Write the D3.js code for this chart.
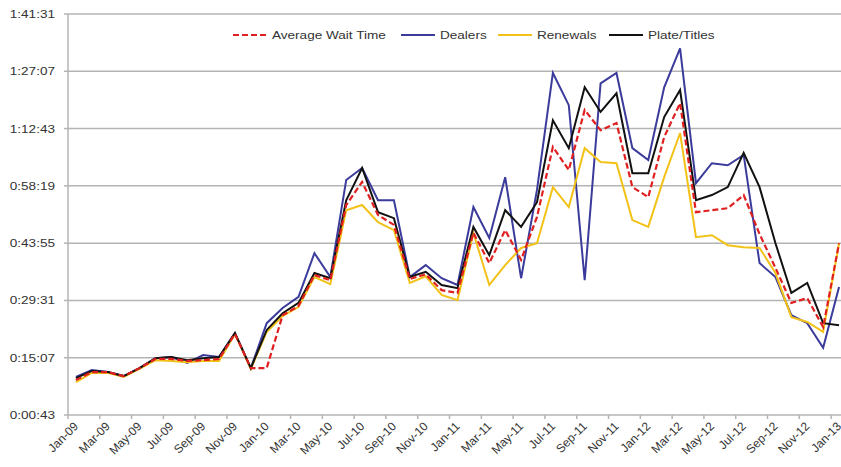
<!DOCTYPE html>
<html>
<head>
<meta charset="utf-8">
<script src="https://cdn.jsdelivr.net/npm/d3@7"></script>
<style>
  body { margin: 0; background: #fff; }
  svg { display: block; font-family: Arial, "Liberation Sans", sans-serif; }
  .tick-lbl { font-size: 11.5px; fill: #333; }
  .x-lbl { font-size: 12px; fill: #333; }
  .legend-lbl { font-size: 11.5px; fill: #333; }
</style>
</head>
<body>
<div id="chart"></div>
<script>
'use strict';

// ─── Дані (хвилини очікування) ─────────────────────────────────────────
const months = [
  'Jan-09','Feb-09','Mar-09','Apr-09','May-09','Jun-09','Jul-09','Aug-09','Sep-09','Oct-09','Nov-09','Dec-09',
  'Jan-10','Feb-10','Mar-10','Apr-10','May-10','Jun-10','Jul-10','Aug-10','Sep-10','Oct-10','Nov-10','Dec-10',
  'Jan-11','Feb-11','Mar-11','Apr-11','May-11','Jun-11','Jul-11','Aug-11','Sep-11','Oct-11','Nov-11','Dec-11',
  'Jan-12','Feb-12','Mar-12','Apr-12','May-12','Jun-12','Jul-12','Aug-12','Sep-12','Oct-12','Nov-12','Dec-12',
  'Jan-13'
];

const averageWait = [
  9.5, 11.5, 11.5, 10.5, 12.5, 14.8, 14.8, 14.3, 14.5, 14.8, 21.1, 12.5,
  12.5, 25.8, 28.1, 35.9, 34.6, 53.5, 59.3, 51.0, 48.5, 34.9, 36.1, 32.1,
  31.4, 46.5, 38.9, 47.2, 39.7, 50.5, 68.1, 62.3, 77.4, 72.3, 74.1, 58.0,
  55.5, 70.6, 79.1, 51.7, 52.2, 52.7, 56.0, 46.2, 37.7, 28.9, 30.1, 22.8,
  43.9
];

const dealers = [
  10.3, 12.0, 11.5, 10.5, 12.5, 15.0, 15.3, 13.8, 15.8, 15.3, 21.3, 12.5,
  23.8, 27.6, 30.4, 41.4, 35.4, 59.8, 62.8, 54.7, 54.7, 35.4, 38.4, 35.1,
  33.4, 53.0, 45.2, 60.5, 35.1, 57.3, 86.7, 78.6, 34.6, 84.1, 86.7, 67.8,
  64.8, 83.1, 92.9, 59.0, 64.0, 63.5, 66.1, 38.9, 35.4, 25.8, 23.8, 17.6,
  32.9
];

const renewals = [
  9.0, 11.3, 11.3, 10.3, 12.3, 14.5, 14.3, 14.0, 14.3, 14.3, 21.1, 12.3,
  21.6, 25.6, 27.9, 35.4, 33.6, 52.2, 53.5, 49.2, 47.2, 33.9, 35.6, 30.9,
  29.6, 46.5, 33.4, 38.4, 42.7, 43.9, 58.0, 53.0, 67.8, 64.3, 64.0, 49.7,
  48.0, 60.5, 71.6, 45.4, 45.9, 43.4, 42.9, 42.7, 36.4, 25.3, 24.1, 21.6,
  43.9
];

const plateTitles = [
  10.0, 11.8, 11.5, 10.5, 12.5, 15.0, 15.3, 14.5, 15.0, 15.3, 21.3, 12.5,
  22.1, 26.3, 28.9, 36.4, 35.1, 54.7, 62.8, 51.7, 50.2, 35.4, 36.7, 33.4,
  32.6, 48.0, 40.9, 52.2, 48.0, 54.2, 74.8, 67.8, 83.1, 76.9, 81.6, 61.5,
  61.5, 75.6, 82.4, 54.7, 56.0, 58.0, 66.6, 58.0, 43.9, 31.4, 33.9, 23.8,
  23.3
];

// тики осі Y у секундах: 0:00:43 + k·14:24
const yTicks = [43, 907, 1771, 2635, 3499, 4363, 5227, 6091];

const seriesNames  = ['Average Wait Time', 'Dealers', 'Renewals', 'Plate/Titles'];
const seriesValues = [averageWait, dealers, renewals, plateTitles];

// ─── Побудова ────────────────────────────────────────────────────────────
const W = 841, H = 467;
const margin = { top: 14, left: 68, bottom: 415, right: 847 };
const STRETCH = 1.18;   // оригінал трохи розтягнутий по горизонталі

const svg = d3.select('#chart').append('svg').attr('width', W).attr('height', H);

const x = d3.scalePoint().domain(months).range([margin.left, margin.right]).padding(0.5);
const y = d3.scaleLinear().domain([yTicks[0], yTicks[yTicks.length - 1]])
  .range([margin.bottom, margin.top]);
const step = x.step();

function fmtTime(s) {
  const h = Math.floor(s / 3600), m = Math.floor((s % 3600) / 60), sec = s % 60;
  return `${h}:${String(m).padStart(2, '0')}:${String(sec).padStart(2, '0')}`;
}

// Сітка
svg.append('g').selectAll('line').data(yTicks.slice(1)).join('line')
  .attr('x1', margin.left).attr('x2', W)
  .attr('y1', d => y(d)).attr('y2', d => y(d))
  .attr('stroke', '#b4b4b4').attr('stroke-width', 1.5);

// Вісь Y
svg.append('line').attr('x1', margin.left).attr('x2', margin.left)
  .attr('y1', margin.top).attr('y2', margin.bottom)
  .attr('stroke', '#b4b4b4').attr('stroke-width', 1.5);
svg.append('g').selectAll('line').data(yTicks).join('line')
  .attr('x1', margin.left - 4).attr('x2', margin.left)
  .attr('y1', d => y(d)).attr('y2', d => y(d))
  .attr('stroke', '#b4b4b4').attr('stroke-width', 1.5);
svg.append('g').selectAll('text').data(yTicks).join('text')
  .attr('class', 'tick-lbl')
  .attr('text-anchor', 'end')
  .attr('transform', d => `translate(55,${y(d) + 4}) scale(${STRETCH},1)`)
  .text(fmtTime);

// Вісь X
svg.append('line').attr('x1', margin.left).attr('x2', W)
  .attr('y1', margin.bottom).attr('y2', margin.bottom)
  .attr('stroke', '#b4b4b4').attr('stroke-width', 1.5);
const labelled = months.filter((m, i) => i % 2 === 0);
svg.append('g').selectAll('line').data(labelled).join('line')
  .attr('x1', d => x(d) - step / 2).attr('x2', d => x(d) - step / 2)
  .attr('y1', margin.bottom).attr('y2', margin.bottom + 4)
  .attr('stroke', '#b4b4b4').attr('stroke-width', 1.5);
svg.append('g').selectAll('text').data(labelled).join('text')
  .attr('class', 'x-lbl')
  .attr('text-anchor', 'end')
  .attr('transform', d => `translate(${x(d) + 3},${margin.bottom + 12}) rotate(-45)`)
  .text(d => d);

// Лінії
const colors = ['#e02020', '#3b3b9b', '#f2c218', '#111111'];
const line = d3.line().x((d, i) => x(months[i])).y(d => y(d * 60));

const drawOrder = [1, 2, 3, 0];
drawOrder.forEach(k => {
  svg.append('path').datum(seriesValues[k])
    .attr('fill', 'none')
    .attr('stroke', colors[k])
    .attr('stroke-width', k === 0 ? 2.2 : 2)
    .attr('stroke-linejoin', 'miter')
    .attr('stroke-dasharray', k === 0 ? '6,3' : null)
    .attr('d', line);
});

// Легенда
const legendX = [233, 401, 498, 609];
const lg = svg.append('g');
seriesNames.forEach((name, k) => {
  lg.append('line')
    .attr('x1', legendX[k]).attr('x2', legendX[k] + 34)
    .attr('y1', 35).attr('y2', 35)
    .attr('stroke', colors[k]).attr('stroke-width', 2.2)
    .attr('stroke-dasharray', k === 0 ? '6,3' : null);
  lg.append('text').attr('class', 'legend-lbl')
    .attr('transform', `translate(${legendX[k] + 39},39) scale(${STRETCH},1)`)
    .text(name);
});
</script>
</body>
</html>
